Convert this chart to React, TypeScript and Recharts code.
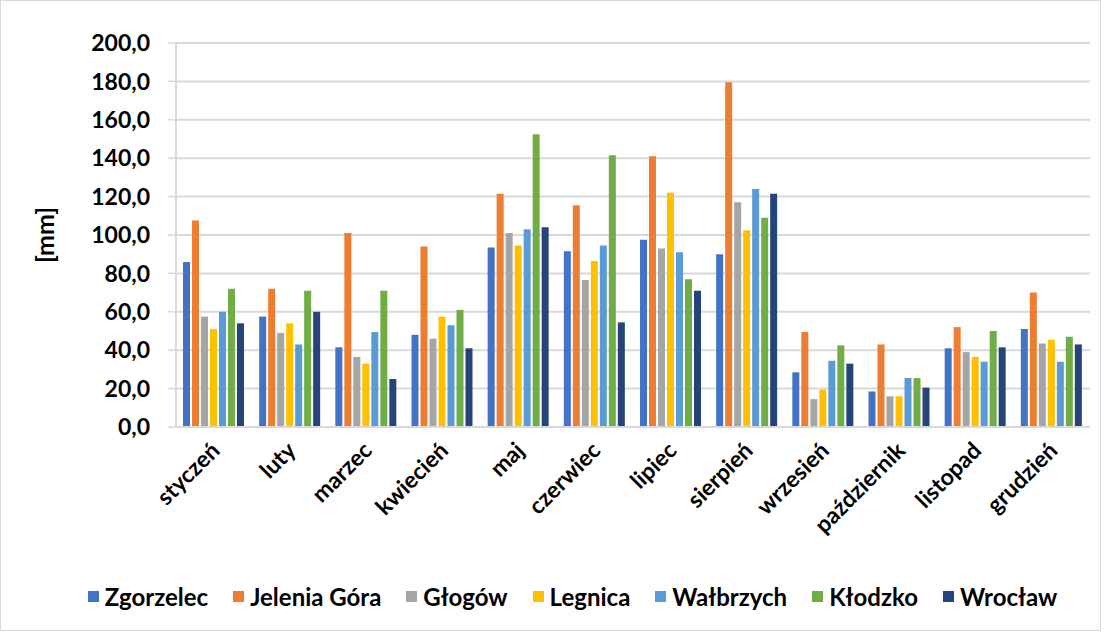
import {
    BarChart,
    Bar,
    XAxis,
    YAxis,
    CartesianGrid,
    Legend,
} from 'recharts';

const months = [
    'styczeń', 'luty', 'marzec', 'kwiecień', 'maj', 'czerwiec',
    'lipiec', 'sierpień', 'wrzesień', 'październik', 'listopad', 'grudzień',
];

const zgorzelec = [86, 57.5, 41.5, 48, 93.5, 91.5, 97.5, 90, 28.5, 18.5, 41, 51];
const jeleniaGora = [107.5, 72, 101, 94, 121.5, 115.5, 141, 179.5, 49.5, 43, 52, 70];
const glogow = [57.5, 49, 36.5, 46, 101, 76.5, 93, 117, 14.5, 16, 39, 43.5];
const legnica = [51, 54, 33, 57.5, 94.5, 86.5, 122, 102.5, 19.5, 16, 36.5, 45.5];
const walbrzych = [60, 43, 49.5, 53, 103, 94.5, 91, 124, 34.5, 25.5, 34, 34];
const klodzko = [72, 71, 71, 61, 152.5, 141.5, 77, 109, 42.5, 25.5, 50, 47];
const wroclaw = [54, 60, 25, 41, 104, 54.5, 71, 121.5, 33, 20.5, 41.5, 43];

const yTicks = [0, 20, 40, 60, 80, 100, 120, 140, 160, 180, 200];

const series = [
    { key: 'Zgorzelec', values: zgorzelec, color: '#4472C4' },
    { key: 'Jelenia Góra', values: jeleniaGora, color: '#ED7D31' },
    { key: 'Głogów', values: glogow, color: '#A5A5A5' },
    { key: 'Legnica', values: legnica, color: '#FFC000' },
    { key: 'Wałbrzych', values: walbrzych, color: '#5B9BD5' },
    { key: 'Kłodzko', values: klodzko, color: '#70AD47' },
    { key: 'Wrocław', values: wroclaw, color: '#264478' },
];

const data = months.map((month, i) => {
    const row: Record<string, string | number> = { month };
    series.forEach((s) => {
        row[s.key] = s.values[i];
    });
    return row;
});

const FONT = 'Lato, "Open Sans", sans-serif';

const MonthTick = ({ x, y, payload }: any) => (
    <g transform={`translate(${x + 7},${y + 17})`}>
        <text
            x={0}
            y={0}
            textAnchor="end"
            transform="rotate(-45)"
            fontFamily={FONT}
            fontWeight={700}
            fontSize={23}
            fill="#000"
        >
            {payload.value}
        </text>
    </g>
);

const CustomLegend = () => (
    <div
        style={{
            display: 'flex',
            justifyContent: 'center',
            alignItems: 'center',
            gap: 25,
            paddingTop: 10,
            paddingLeft: 34,
            fontFamily: FONT,
            fontWeight: 700,
            fontSize: 24,
            color: '#000',
        }}
    >
        {series.map((s) => (
            <div key={s.key} style={{ display: 'flex', alignItems: 'center' }}>
                <span
                    style={{
                        display: 'inline-block',
                        width: 11,
                        height: 11,
                        background: s.color,
                        marginRight: 6,
                    }}
                />
                <span>{s.key}</span>
            </div>
        ))}
    </div>
);

export default function App() {
    return (
        <div
            style={{
                position: 'absolute',
                left: 0,
                top: 0,
                width: 1101,
                height: 631,
                border: '1px solid #d9d9d9',
                boxSizing: 'border-box',
                background: '#fff',
            }}
        >
            <BarChart
                width={1099}
                height={629}
                data={data}
                margin={{ top: 42, right: 10, left: 20, bottom: 8 }}
                barCategoryGap={7}
                barGap={2}
            >
                <CartesianGrid
                    vertical={false}
                    stroke="#d9d9d9"
                    strokeWidth={2}
                />
                <XAxis
                    dataKey="month"
                    height={145}
                    interval={0}
                    tickLine={false}
                    axisLine={{ stroke: '#d9d9d9', strokeWidth: 2 }}
                    tick={<MonthTick />}
                />
                <YAxis
                    width={155}
                    domain={[0, 200]}
                    ticks={yTicks}
                    interval={0}
                    tickFormatter={(v: number) => v.toFixed(1).replace('.', ',')}
                    tickSize={8}
                    tickMargin={18}
                    tickLine={{ stroke: '#d9d9d9', strokeWidth: 1.5 }}
                    axisLine={{ stroke: '#d9d9d9', strokeWidth: 2 }}
                    tick={{ fontFamily: FONT, fontWeight: 700, fontSize: 23, fill: '#000' }}
                    label={{
                        value: '[mm]',
                        angle: -90,
                        position: 'insideLeft',
                        offset: 24,
                        style: {
                            textAnchor: 'middle',
                            fontFamily: FONT,
                            fontWeight: 700,
                            fontSize: 25,
                            fill: '#000',
                        },
                    }}
                />
                <Legend
                    verticalAlign="bottom"
                    height={50}
                    content={<CustomLegend />}
                />
                {series.map((s) => (
                    <Bar
                        key={s.key}
                        dataKey={s.key}
                        fill={s.color}
                        isAnimationActive={false}
                    />
                ))}
            </BarChart>
        </div>
    );
}
